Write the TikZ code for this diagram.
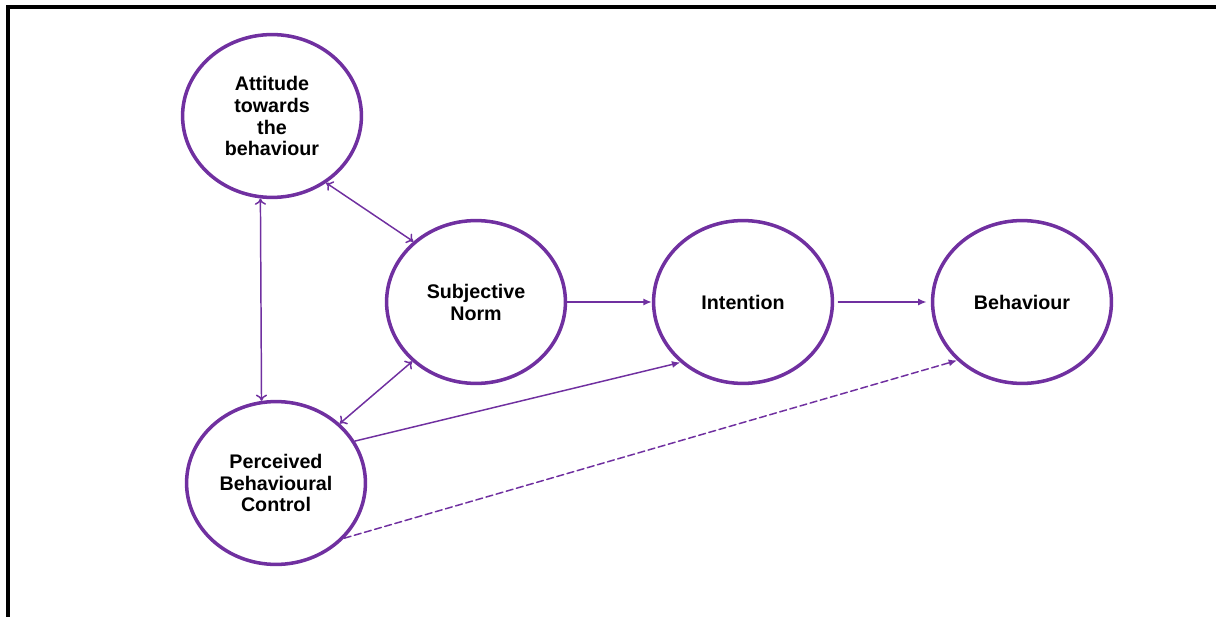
\documentclass[tikz,border=0pt]{standalone}
\usepackage{fontspec}
\setmainfont{Liberation Sans}
\usetikzlibrary{arrows.meta,shapes.geometric}
\definecolor{tpbpurple}{HTML}{7030A0}

\begin{document}
\begin{tikzpicture}[x=0.025cm,y=-0.025cm,line cap=round,
  construct/.style={ellipse,draw=tpbpurple,line width=2.5pt,minimum width=4.47cm,
    minimum height=4.07cm,inner sep=0pt,align=center,
    font=\fontsize{14}{15.6}\selectfont\bfseries},
  link/.style={draw=tpbpurple,line width=1.05pt,-{Latex[length=6pt,width=5pt]}},
  both/.style={draw=tpbpurple,line width=1.05pt,{To[length=4.5pt,width=8pt]}-{To[length=4.5pt,width=8pt]}}]
\useasboundingbox (0,0) rectangle (1216,617);
% frame, only top and left edge
\draw[line width=2.8pt,line cap=butt] (1216,7) -- (8,7) -- (8,617);

% the five constructs
\node[construct] (att) at (272,116) {Attitude\\towards\\the\\behaviour};
\node[construct] (sn)  at (476,302) {Subjective\\Norm};
\node[construct] (pbc) at (276,483) {Perceived\\Behavioural\\Control};
\node[construct] (int) at (743,302) {Intention};
\node[construct] (beh) at (1022,302) {Behaviour};

% correlations between the antecedents
\draw[both] (att.262) -- (pbc.100);
\draw[both] (att.-51) -- (sn.136);
\draw[both] (pbc.43) -- (sn.223);

% direct paths
\draw[link] (sn.east) -- (int.west);
\draw[link,shorten <=3pt,shorten >=3pt] (int.east) -- (beh.west);
\draw[link] (pbc.28) -- (int.224);
\draw[link,dashed,dash pattern=on 5pt off 2.5pt] (pbc.-39) -- (beh.222);
\end{tikzpicture}
\end{document}
